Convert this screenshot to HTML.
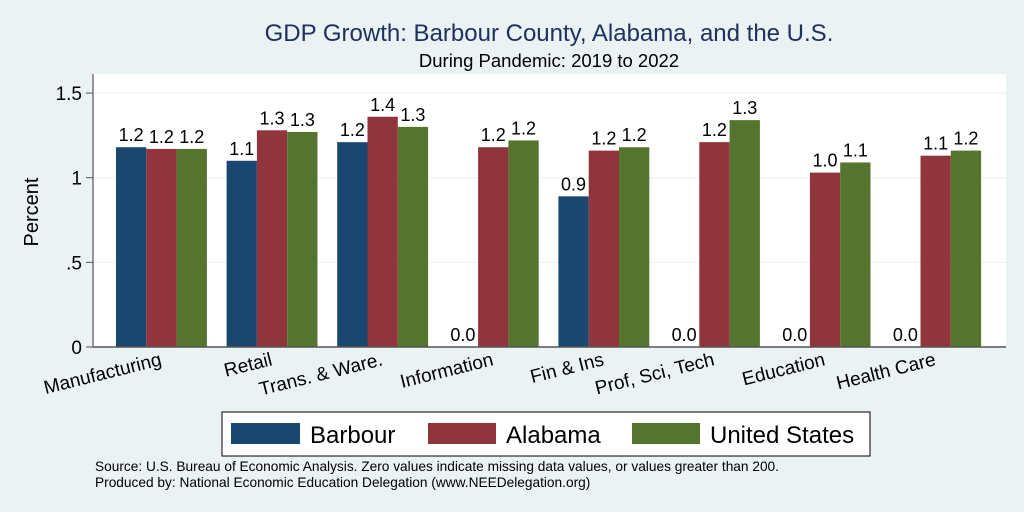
<!DOCTYPE html>
<html><head><meta charset="utf-8"><style>
body{margin:0;background:#eaf2f3;}
svg{display:block;font-family:"Liberation Sans",Arial,sans-serif;}
</style></head><body>
<svg id="chart" width="1024" height="512">
<rect x="0" y="0" width="1024" height="512" fill="#eaf2f3"/>
<text x="549" y="41" text-anchor="middle" font-size="24" fill="#1e3160">GDP Growth: Barbour County, Alabama, and the U.S.</text>
<text x="549" y="67" text-anchor="middle" font-size="18.5" fill="#000">During Pandemic: 2019 to 2022</text>
<rect x="93" y="74" width="913" height="273" fill="#fff"/>
<g id="grid"></g><g id="bars"></g><g id="labels"></g><g id="axis"></g>
<text transform="translate(38,212) rotate(-90)" text-anchor="middle" font-size="20">Percent</text>
<g>
<rect x="222" y="412" width="648" height="44" fill="#fff" stroke="#000" stroke-width="1"/>
<rect x="231" y="423" width="69" height="21" fill="#1a476f"/>
<text x="310" y="443" font-size="24">Barbour</text>
<rect x="428" y="423" width="68" height="21" fill="#90353b"/>
<text x="506" y="443" font-size="24">Alabama</text>
<rect x="632" y="423" width="68" height="21" fill="#55752f"/>
<text x="710" y="443" font-size="24">United States</text>
</g>
<text x="95" y="471" font-size="13.7">Source: U.S. Bureau of Economic Analysis. Zero values indicate missing data values, or values greater than 200.</text>
<text x="95" y="487" font-size="13.7">Produced by: National Economic Education Delegation (www.NEEDelegation.org)</text>
</svg>
<script>
const categories=["Manufacturing","Retail","Trans. & Ware.","Information","Fin & Ins","Prof, Sci, Tech","Education","Health Care"];
const barbour=[1.18,1.10,1.21,0,0.89,0,0,0];
const alabama=[1.17,1.28,1.36,1.18,1.16,1.21,1.03,1.13];
const unitedStates=[1.17,1.27,1.30,1.22,1.18,1.34,1.09,1.16];
const yTicks=[0,0.5,1,1.5];
const yTickLabels=["0",".5","1","1.5"];
const NS="http://www.w3.org/2000/svg";
const y0=347,unit=169.3;
function yScale(v){return y0-v*unit;}
function groupLeft(i){return 116+110.6*i;}
const bw=30.3;
function mk(tag,attrs,parent,txt){const e=document.createElementNS(NS,tag);for(const k in attrs)e.setAttribute(k,attrs[k]);if(txt!==undefined)e.textContent=txt;document.getElementById(parent).appendChild(e);return e;}
yTicks.forEach((t,i)=>{
 const g=mk('line',{x1:93,x2:1006,y1:yScale(t),y2:yScale(t),stroke:'#eaf2f3','stroke-width':1},'grid');
 
 
 const tk=mk('line',{x1:86,x2:93,y1:yScale(t),y2:yScale(t),stroke:'#555','stroke-width':1},'axis');
 
 
 const tl=mk('text',{x:82,y:yScale(t)+7,'text-anchor':'end','font-size':19},'axis',yTickLabels[i]);
 
 
});
const series=[[barbour,'#1a476f','barbour'],[alabama,'#90353b','alabama'],[unitedStates,'#55752f','united-states']];
categories.forEach((c,i)=>{
 series.forEach(([arr,col,nm],s)=>{
  const v=arr[i],x=groupLeft(i)+s*bw;
  if(v>0){
   const r=mk('rect',{x:x,y:yScale(v),width:bw,height:y0-yScale(v),fill:col},'bars');
   
   
  }
  const t=mk('text',{x:x+bw/2,y:yScale(v)-6,'text-anchor':'middle','font-size':18},'labels',v.toFixed(1));
  
  
 });
 const cx=groupLeft(i)+bw*1.5+1;
 const l=mk('text',{transform:'translate('+cx+',365) rotate(-14)','text-anchor':'end','font-size':19},'axis',c);
 
 
});
const ax=mk('line',{x1:93,x2:93,y1:74,y2:347,stroke:'#555','stroke-width':1.2},'axis');


const bx=mk('line',{x1:93,x2:1006,y1:347,y2:347,stroke:'#555','stroke-width':1.5},'axis');


</script>
</body></html>
